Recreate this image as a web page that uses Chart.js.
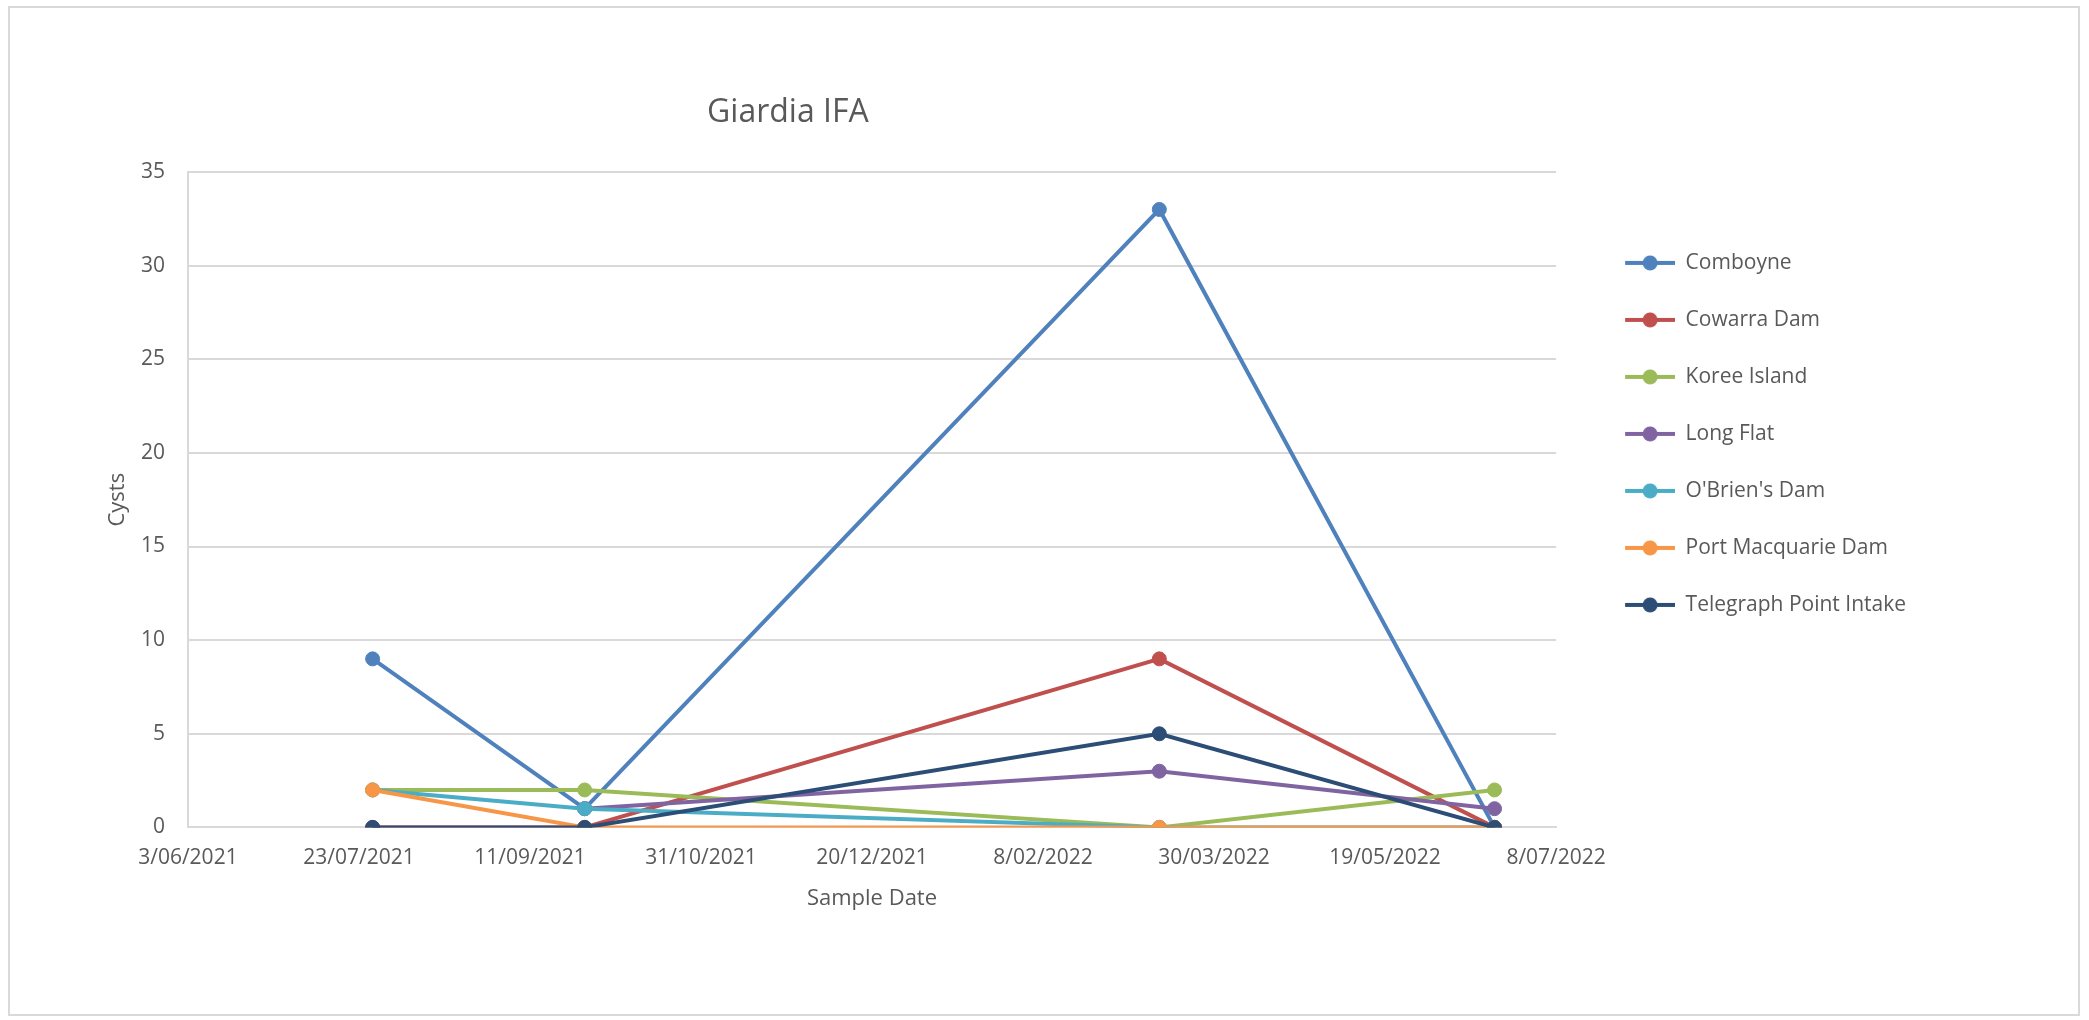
<!DOCTYPE html>
<html>
<head>
<meta charset="utf-8">
<title>Giardia IFA</title>
<script src="https://cdn.jsdelivr.net/npm/chart.js@4.4.1/dist/chart.umd.min.js"></script>
<style>
  html, body { margin: 0; padding: 0; background: #fff; }
  #moldura { position: absolute; left: 8px; top: 6px; width: 2072px; height: 1010px; border: 2px solid #d9d9d9; box-sizing: border-box; }
  #grafico { position: absolute; left: 0; top: 0; }
</style>
</head>
<body>
<div id="moldura"></div>
<canvas id="grafico" width="2089" height="1020"></canvas>
<script>
// dados
const tituloGrafico = 'Giardia IFA';
const inicioEixo = '3/06/2021';
const fimEixo = '8/07/2022';
const rotulosEixoX = ['3/06/2021', '23/07/2021', '11/09/2021', '31/10/2021', '20/12/2021',
                      '8/02/2022', '30/03/2022', '19/05/2022', '8/07/2022'];
const datasAmostra = ['27/07/2021', '27/09/2021', '14/03/2022', '20/06/2022'];

const nomesSeries = ['Comboyne', 'Cowarra Dam', 'Koree Island', 'Long Flat',
                     "O'Brien's Dam", 'Port Macquarie Dam', 'Telegraph Point Intake'];
const comboyne = [9, 1, 33, 0];
const cowarraDam = [0, 0, 9, 0];
const koreeIsland = [2, 2, 0, 2];
const longFlat = [null, 1, 3, 1];
const obriensDam = [2, 1, 0, 0];
const portMacquarieDam = [2, 0, 0, 0];
const telegraphPoint = [0, 0, 5, 0];

const coresSeries = ['#4F81BD', '#C0504D', '#9BBB59', '#8064A2', '#4BACC6', '#F79646', '#2C4D75'];

function diaDoAno(texto) {
    const [d, m, a] = texto.split('/').map(Number);
    return Date.UTC(a, m - 1, d) / 86400000;
}

const dia0 = diaDoAno(inicioEixo);
const diasAmostra = datasAmostra.map(d => diaDoAno(d) - dia0);
const valores = [comboyne, cowarraDam, koreeIsland, longFlat, obriensDam, portMacquarieDam, telegraphPoint];

function iconeLegenda(cor) {
    const c = document.createElement('canvas');
    c.width = 83;
    c.height = 16;
    const g = c.getContext('2d');
    g.strokeStyle = cor;
    g.lineWidth = 4;
    g.beginPath();
    g.moveTo(33, 8);
    g.lineTo(83, 8);
    g.stroke();
    g.fillStyle = cor;
    g.beginPath();
    g.arc(58, 8, 7.5, 0, Math.PI * 2);
    g.fill();
    return c;
}
const icones = coresSeries.map(iconeLegenda);

const pluginTitulo = {
    id: 'tituloGrafico',
    afterDraw(chart) {
        const { ctx, chartArea } = chart;
        ctx.save();
        ctx.font = "32px 'Open Sans'";
        ctx.fillStyle = '#595959';
        ctx.textAlign = 'center';
        ctx.textBaseline = 'alphabetic';
        ctx.fillText(tituloGrafico, chartArea.left + chartArea.width * 0.4385, 122);
        ctx.restore();
    }
};

Chart.defaults.font.family = "'Open Sans', sans-serif";
Chart.defaults.color = '#595959';

const ctx = document.getElementById('grafico').getContext('2d');
new Chart(ctx, {
    type: 'line',
    data: {
        datasets: nomesSeries.map((nome, i) => ({
            label: nome,
            data: valores[i].map((v, j) => ({ x: diasAmostra[j], y: v })),
            borderColor: coresSeries[i],
            backgroundColor: coresSeries[i],
            pointBackgroundColor: coresSeries[i],
            pointBorderColor: coresSeries[i],
            borderWidth: 4,
            pointRadius: 7,
            pointBorderWidth: 1,
            tension: 0,
            order: nomesSeries.length - i
        }))
    },
    options: {
        responsive: false,
        animation: false,
        layout: {
            padding: { top: 172, left: 8, right: 173, bottom: 108 }
        },
        scales: {
            x: {
                type: 'linear',
                min: 0,
                max: diaDoAno(fimEixo) - dia0,
                grid: { display: false, drawTicks: false },
                border: { display: true, color: '#d9d9d9', width: 2 },
                ticks: {
                    stepSize: 50,
                    padding: 18,
                    maxRotation: 0,
                    autoSkip: false,
                    font: { size: 21 },
                    callback: (v, i) => rotulosEixoX[i]
                },
                title: {
                    display: true,
                    text: 'Sample Date',
                    font: { size: 22 },
                    padding: { top: -3, bottom: 0 }
                }
            },
            y: {
                min: 0,
                max: 35,
                grid: { color: '#d9d9d9', lineWidth: 2, drawTicks: false },
                border: { display: true, color: '#d9d9d9', width: 2 },
                ticks: {
                    stepSize: 5,
                    padding: 23,
                    font: { size: 21 }
                },
                title: {
                    display: true,
                    text: 'Cysts',
                    font: { size: 22 },
                    padding: { top: 97, bottom: -13.5 }
                }
            }
        },
        plugins: {
            title: { display: false },
            tooltip: { enabled: false },
            legend: {
                position: 'right',
                align: 'start',
                title: { display: true, text: '', font: { size: 12 }, padding: { top: 30, bottom: 0 } },
                labels: {
                    usePointStyle: true,
                    pointStyleWidth: 83,
                    padding: 36,
                    color: '#595959',
                    font: { size: 21 },
                    sort: (a, b) => a.datasetIndex - b.datasetIndex,
                    generateLabels: chart => Chart.defaults.plugins.legend.labels.generateLabels(chart)
                        .map(item => ({ ...item, pointStyle: icones[item.datasetIndex] }))
                }
            }
        }
    },
    plugins: [pluginTitulo]
});
</script>
</body>
</html>
